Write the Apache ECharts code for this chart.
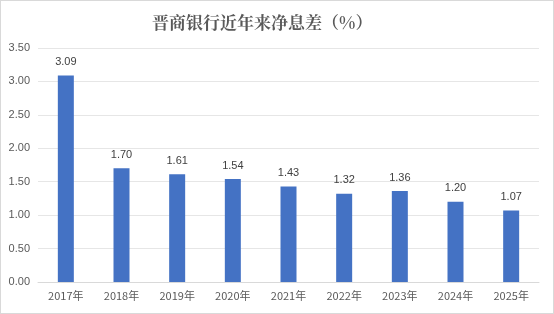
<!DOCTYPE html>
<html><head><meta charset="utf-8">
<script src="https://cdn.jsdelivr.net/npm/echarts@6/dist/echarts.min.js"></script>
<style>html,body{margin:0;padding:0;background:#fff}
#c{width:552px;height:312px;border:1px solid #d9d9d9}</style>
</head><body><div id="c"></div>
<script>
const categories = ['2017年','2018年','2019年','2020年','2021年','2022年','2023年','2024年','2025年'];
const values = [3.09,1.70,1.61,1.54,1.43,1.32,1.36,1.20,1.07];
const chart = echarts.init(document.getElementById('c'));
chart.setOption({
  animation:false,
  title:{text:'晋商银行近年来净息差（%）',left:146,top:8,
    textStyle:{fontFamily:'Noto Serif CJK SC, serif',fontWeight:'bold',fontSize:17,color:'#595959'}},
  grid:{left:37,right:14,top:47,bottom:31},
  xAxis:{type:'category',data:categories,
    axisLine:{lineStyle:{color:'#d9d9d9'}},axisTick:{show:false},
    axisLabel:{color:'#595959',fontSize:11,fontFamily:'Noto Sans CJK SC',margin:8}},
  yAxis:{type:'value',min:0,max:3.5,interval:0.5,
    axisLabel:{color:'#595959',fontSize:11,formatter:v=>v.toFixed(2),margin:8},
    splitLine:{lineStyle:{color:'#e6e6e6'}},axisLine:{show:false},axisTick:{show:false}},
  series:[{type:'bar',data:values,barWidth:16,itemStyle:{color:'#4472c4'},
    label:{show:true,position:'top',distance:8,color:'#404040',fontSize:11,formatter:p=>p.value.toFixed(2)}}]
});
</script></body></html>
